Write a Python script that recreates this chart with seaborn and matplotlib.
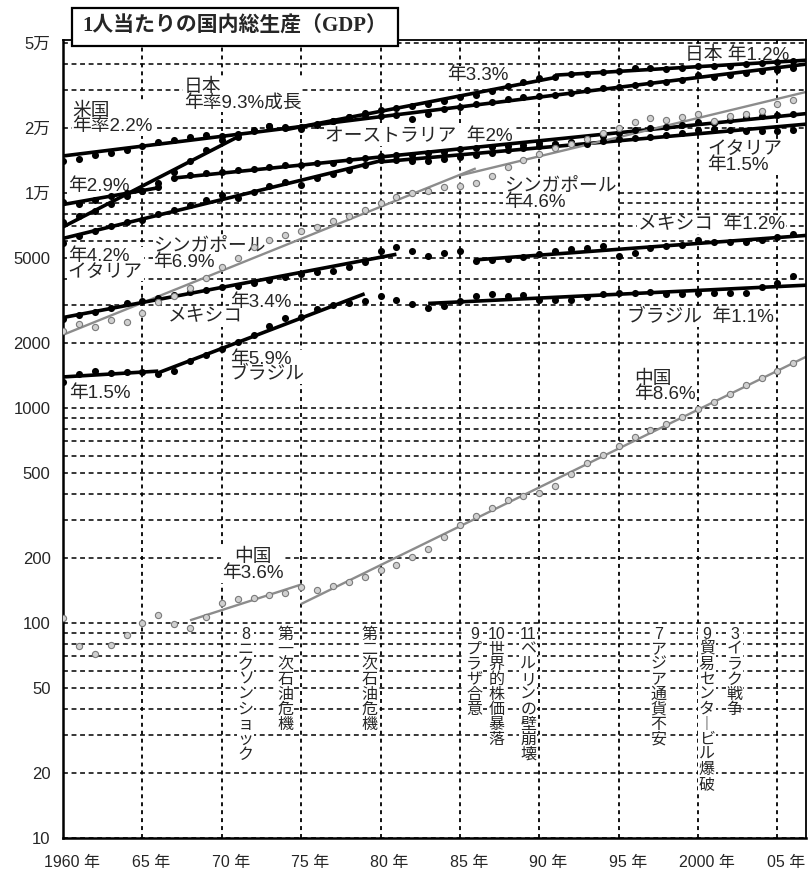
import numpy as np
import pandas as pd
import seaborn as sns
import matplotlib.pyplot as plt
import matplotlib.transforms as mtransforms
from matplotlib.patches import Rectangle
from matplotlib.ticker import FixedLocator, FixedFormatter, NullFormatter

# GDP per person (log scale)
years = list(range(1960, 2007))

usa = [14090, 14390, 15020, 15350, 15850, 16540, 17260, 17640, 18210, 18610,
       18410, 18810, 19640, 20500, 20280, 19850, 20720, 21620, 22570, 23060,
       22810, 23060, 22090, 23310, 24580, 25120, 25950, 26510, 27360, 27960,
       28260, 28570, 29190, 30140, 30800, 31130, 31800, 32500, 32850, 33550,
       35390, 34630, 35390, 36160, 36950, 37350, 38170]
japan = [7330, 7820, 8250, 8890, 9690, 10220, 11130, 12520, 14090, 15850,
         17640, 18210, 19430, 20500, 20060, 20280, 20950, 21620, 22570, 23560,
         24320, 24850, 25390, 25950, 26790, 27960, 28570, 29820, 31460, 32850,
         34260, 34630, 35770, 35770, 36550, 36950, 38170, 38170, 37760, 38170,
         38970, 38970, 38970, 39820, 40250, 40690, 41130]
australia = [9080, 8890, 9280, 9690, 10000, 10220, 10670, 11750, 12130, 12390,
             12520, 12790, 12930, 13210, 13500, 13500, 13790, 13790, 14240, 14550,
             14860, 15020, 15020, 15350, 15520, 16020, 16200, 16370, 16540, 16720,
             17080, 16900, 17260, 18020, 18410, 19020, 19640, 20060, 20280, 20720,
             21400, 21170, 21850, 22570, 22810, 23060, 23310]
italy = [5850, 6320, 6660, 7025, 7330, 7490, 7990, 8340, 8795, 9280,
         9790, 9480, 10110, 10780, 11250, 10900, 11750, 12260, 12790, 13500,
         14240, 14240, 14090, 14090, 14390, 14700, 15020, 15350, 15850, 16200,
         16540, 16900, 17080, 16900, 17450, 17830, 18020, 18210, 18610, 19020,
         19640, 19850, 19640, 19430, 19430, 19430, 19640]
singapore = [2280, 2460, 2380, 2570, 2510, 2765, 3110, 3320, 3620, 4025,
             4525, 4985, 5610, 6045, 6380, 6660, 6950, 7410, 7820, 8340,
             9000, 9580, 10000, 10220, 10670, 10780, 11130, 12000, 13210, 14240,
             15190, 16200, 16900, 17830, 19020, 20060, 21400, 22330, 21850, 22570,
             23310, 21620, 22810, 23310, 24060, 25950, 27070]
mexico = [2600, 2710, 2800, 2920, 3080, 3150, 3250, 3355, 3465, 3540,
          3655, 3695, 3815, 3940, 4065, 4200, 4290, 4340, 4525, 4775,
          5370, 5610, 5370, 5095, 5260, 5370, 4830, 4880, 4935, 5040,
          5205, 5370, 5490, 5550, 5670, 5095, 5260, 5550, 5670, 5730,
          6045, 5915, 5915, 5915, 6045, 6245, 6450]
brazil = [1320, 1440, 1486, 1455, 1470, 1470, 1440, 1486, 1654, 1764,
          1880, 2030, 2185, 2406, 2620, 2650, 2890, 3014, 3080, 3150,
          3320, 3180, 3050, 2920, 2980, 3150, 3320, 3390, 3320, 3355,
          3180, 3180, 3180, 3285, 3390, 3430, 3430, 3465, 3390, 3390,
          3430, 3430, 3430, 3430, 3655, 3815, 4110]
china = [105, 78, 72, 79, 88, 100, 109, 99, 95, 107,
         124, 129, 131, 135, 138, 147, 142, 149, 155, 164,
         176, 186, 203, 221, 251, 286, 315, 343, 373, 390,
         402, 434, 493, 555, 605, 666, 733, 790, 843, 908,
         989, 1066, 1161, 1279, 1380, 1486, 1619]

# trend line periods (first year, last year)
usa_seg = [(1960, 2006)]
japan_seg = [(1960, 1971), (1974, 1991), (1991, 2006)]
australia_seg = [(1960, 1966), (1967, 2006)]
italy_seg = [(1960, 1980), (1980, 2006)]
singapore_seg = [(1960, 1986), (1985, 2006)]
mexico_seg = [(1960, 1981), (1986, 2006)]
brazil_seg = [(1960, 1966), (1966, 1979), (1983, 2006)]
china_seg = [(1968, 1975), (1975, 2006)]

countries = ['米国', '日本', 'オーストラリア', 'イタリア', 'シンガポール', 'メキシコ', 'ブラジル', '中国']
values = [usa, japan, australia, italy, singapore, mexico, brazil, china]
segments = [usa_seg, japan_seg, australia_seg, italy_seg, singapore_seg, mexico_seg, brazil_seg, china_seg]
gray_countries = ['シンガポール', '中国']

# series labels: text, year, value
label_text = ['米国\n年率2.2%', '日本\n年率9.3%成長', '年2.9%', '年4.2%\nイタリア',
              'シンガポール\n年6.9%', '年3.4%', 'メキシコ', '年5.9%\nブラジル', '年1.5%',
              '年3.3%', 'オーストラリア  年2%', '日本 年1.2%', 'イタリア\n年1.5%',
              'シンガポール\n年4.6%', 'メキシコ  年1.2%', 'ブラジル  年1.1%', '中国\n年8.6%']
label_year = [1960.6, 1967.6, 1960.3, 1960.3, 1965.7, 1970.5, 1966.6, 1970.5, 1960.4,
              1984.2, 1976.5, 1999.2, 2000.6, 1987.8, 1996.2, 1995.5, 1996.0]
label_value = [26400, 34100, 11720, 5560, 6180, 3400, 2900, 1850, 1273,
               38740, 20000, 48000, 17400, 11720, 7820, 2900, 1494]

# events: month, name, year
event_month = ['8', '', '', '9', '10', '11', '7', '9', '3']
event_name = ['ニクソンショック', '第一次石油危機', '第二次石油危機', 'プラザ合意', '世界的株価暴落',
              'ベルリンの壁崩壊', 'アジア通貨不安', '貿易センタービル爆破', 'イラク戦争']
event_year = [1971.5, 1974.0, 1979.3, 1985.9, 1987.3, 1989.3, 1997.5, 2000.55, 2002.3]

ytick_vals = [10, 20, 50, 100, 200, 500, 1000, 2000, 5000, 10000, 20000, 50000]
ytick_text = ['10', '20', '50', '100', '200', '500', '1000', '2000', '5000', '1万', '2万', '5万']
xtick_vals = [1960, 1965, 1970, 1975, 1980, 1985, 1990, 1995, 2000, 2005]
xtick_text = ['1960 年', '65 年', '70 年', '75 年', '80 年', '85 年', '90 年', '95 年', '2000 年', '05 年']

sns.set_style('white')
plt.rcParams['font.family'] = ['Liberation Sans', 'Noto Sans CJK JP']

rows = []
for name, vals in zip(countries, values):
    for yr, v in zip(years, vals):
        rows.append({'year': yr, 'gdp': v, 'country': name})
df = pd.DataFrame(rows)

fig = plt.figure(figsize=(8.09, 8.77), dpi=100)
ax = fig.add_axes([63 / 809, 39 / 877, 743 / 809, 798 / 877])
ax.set_yscale('log')
x_max = 2006.8
ax.set_xlim(1960, x_max)
ax.set_ylim(10, 51500)

# trend lines
for name, vals, segs in zip(countries, values, segments):
    gray = name in gray_countries
    for a, b in segs:
        xs = np.array([yr for yr in years if a <= yr <= b])
        ys = np.array([v for yr, v in zip(years, vals) if a <= yr <= b])
        k, c = np.polyfit(xs, np.log10(ys), 1)
        x_end = x_max if b == years[-1] else b
        xx = np.array([a, x_end])
        ax.plot(xx, 10 ** (k * xx + c), color='#8c8c8c' if gray else 'black',
                lw=1.7 if gray else 2.6, zorder=2, solid_capstyle='butt')

# dots
black_df = df[~df['country'].isin(gray_countries)]
gray_df = df[df['country'].isin(gray_countries)]
sns.scatterplot(data=black_df, x='year', y='gdp', color='black', s=26,
                edgecolor='black', linewidth=0, ax=ax, zorder=3, legend=False)
sns.scatterplot(data=gray_df, x='year', y='gdp', color='#d0d0d0', s=20,
                edgecolor='#7a7a7a', linewidth=0.8, ax=ax, zorder=3, legend=False)

# grid
grid_vals = [m * d for d in [10, 100, 1000, 10000] for m in range(1, 10) if 20 <= m * d < 50000]
minor_vals = [g for g in grid_vals if g not in ytick_vals]
ax.yaxis.set_major_locator(FixedLocator(ytick_vals))
ax.yaxis.set_major_formatter(FixedFormatter(ytick_text))
ax.yaxis.set_minor_locator(FixedLocator(minor_vals))
ax.yaxis.set_minor_formatter(NullFormatter())
ax.xaxis.set_major_locator(FixedLocator(xtick_vals))
ax.xaxis.set_major_formatter(FixedFormatter(xtick_text))
ax.xaxis.set_minor_locator(FixedLocator([y for y in years if y % 5 != 0]))
ax.set_axisbelow(True)
ax.grid(which='both', axis='y', color='black', lw=1.1, ls=(0, (3.2, 2.4)))
ax.grid(which='major', axis='x', color='black', lw=1.3, ls=(0, (2.2, 2.2)))

ax.tick_params(axis='y', which='both', length=0, pad=9, labelsize=12)
ax.tick_params(axis='x', which='major', length=0, pad=12, labelsize=11.5)
ax.tick_params(axis='x', which='minor', direction='inout', length=15, width=1.1, color='black')
offset = mtransforms.ScaledTranslation(0.09, 0, fig.dpi_scale_trans)
for lab in ax.get_xticklabels():
    lab.set_transform(lab.get_transform() + offset)
ax.set_xlabel('')
ax.set_ylabel('')

for side in ['left', 'bottom']:
    ax.spines[side].set_linewidth(1.8)
for side in ['top', 'right']:
    ax.spines[side].set_linewidth(1.3)
for sp in ax.spines.values():
    sp.set_color('black')

# series labels (white box hides the grid, not the lines)
box = dict(boxstyle='square,pad=0.05', fc='white', ec='none')
for t, xv, yv in zip(label_text, label_year, label_value):
    ax.text(xv, yv, t, fontsize=13.5, ha='left', va='top', linespacing=0.9,
            zorder=1.5, bbox=box)
ax.text(1971.97, 221, '中国\n年3.6%', fontsize=13.5, ha='center', va='top', linespacing=0.9,
        multialignment='center', zorder=1.5, bbox=box)

# events, written top to bottom
for m, name, xv in zip(event_month, event_name, event_year):
    col = [c for c in name.replace('ー', '︱')]
    if m:
        col = [m] + col
    ax.text(xv, 96, '\n'.join(col), fontsize=11.5, ha='center', va='top', linespacing=1.0,
            zorder=1.5, bbox=box)

# title box
fig.patches.append(Rectangle((72 / 809, 1 - 46 / 877), 326 / 809, 38 / 877,
                             transform=fig.transFigure, fc='white', ec='black', lw=1.6, zorder=5))
fig.text(235 / 809, 1 - 27 / 877, '1人当たりの国内総生産（GDP）', fontsize=15, fontweight='bold',
         family=['Liberation Serif', 'Noto Sans CJK JP'], ha='center', va='center', zorder=6)

plt.savefig('out.png', dpi=100)
